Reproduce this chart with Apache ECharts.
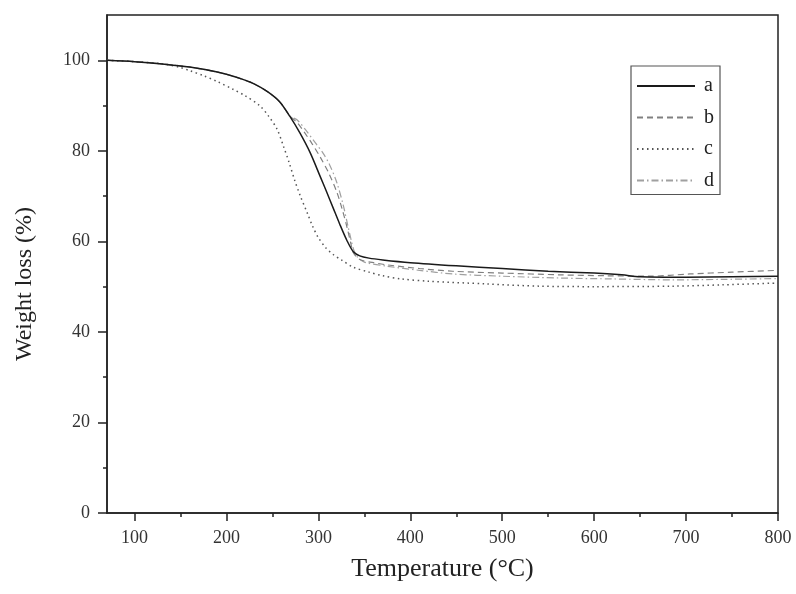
<!DOCTYPE html>
<html>
<head>
<meta charset="utf-8">
<script src="https://cdn.jsdelivr.net/npm/echarts@6/dist/echarts.min.js"></script>
<style>html,body{margin:0;padding:0;background:#fff}#c{width:796px;height:594px}</style>
</head>
<body>
<div id="c"></div>
<script>
// ---- data ----
const seriesNames = ['a', 'b', 'c', 'd'];
const xTickLabels = [100, 200, 300, 400, 500, 600, 700, 800];
const xMinorTicks = [150, 250, 350, 450, 550, 650, 750];
const yTickLabels = [0, 20, 40, 60, 80, 100];
const yMinorTicks = [10, 30, 50, 70, 90];

const aT = [70, 100, 130, 160, 190, 210, 230, 245, 258, 269, 280, 291, 302, 309, 316, 323, 331, 338, 345, 355, 370, 400, 450, 500, 550, 600, 630, 650, 700, 750, 800];
const aW = [100, 99.7, 99.2, 98.5, 97.4, 96.3, 94.8, 93.0, 90.8, 87.6, 83.9, 79.6, 74.3, 70.9, 67.4, 63.9, 60.2, 57.7, 56.8, 56.3, 55.9, 55.3, 54.6, 54.0, 53.4, 53.0, 52.6, 52.2, 52.1, 52.2, 52.3];

const bT = [70, 100, 130, 160, 190, 210, 230, 245, 258, 269, 277, 285, 293, 302, 311, 320, 326, 331, 335, 338, 345, 360, 375, 410, 446, 500, 563, 614, 660, 704, 750, 800];
const bW = [100, 99.7, 99.2, 98.5, 97.4, 96.3, 94.8, 93.0, 90.8, 87.7, 86.2, 84.0, 81.6, 78.6, 75.2, 70.9, 67.0, 63.2, 59.8, 57.5, 56.0, 55.3, 54.8, 54.0, 53.4, 53.0, 52.6, 52.4, 52.3, 52.8, 53.2, 53.6];

const cT = [70, 100, 130, 150, 160, 175, 190, 207, 220, 236, 246, 255, 262, 268, 274, 280, 288, 294, 300, 308, 316, 325, 338, 355, 370, 390, 420, 483, 541, 600, 686, 740, 800];
const cW = [100, 99.7, 99.2, 98.4, 97.7, 96.6, 95.3, 93.6, 92.2, 90.0, 87.6, 84.8, 81.0, 77.5, 73.6, 70.2, 66.2, 63.2, 60.8, 58.6, 57.1, 55.9, 54.3, 53.2, 52.4, 51.7, 51.2, 50.6, 50.1, 50.0, 50.1, 50.4, 50.8];

const dT = [70, 100, 130, 160, 190, 210, 230, 245, 258, 269, 277, 287, 298, 305, 312, 320, 327, 332, 336, 339, 343, 350, 375, 410, 446, 500, 563, 620, 686, 740, 800];
const dW = [100, 99.7, 99.2, 98.5, 97.4, 96.3, 94.8, 93.0, 90.8, 87.7, 86.8, 84.4, 81.4, 79.5, 77.0, 73.0, 68.0, 63.5, 60.0, 57.8, 56.4, 55.4, 54.5, 53.6, 52.8, 52.3, 51.9, 51.7, 51.5, 51.6, 51.8];

const zip = (t, w) => t.map((v, i) => [v, w[i]]);

const serif = '"Liberation Serif", "DejaVu Serif", serif';
const styles = [
  { color: '#1a1a1a', width: 1.5, type: 'solid' },
  { color: '#808080', width: 1.2, type: [6, 4] },
  { color: '#555555', width: 1.5, type: [1.5, 3.5] },
  { color: '#a0a0a0', width: 1.2, type: [7, 3, 1.5, 3] }
];
const dataSets = [zip(aT, aW), zip(bT, bW), zip(cT, cW), zip(dT, dW)];

const chart = echarts.init(document.getElementById('c'), null, { renderer: 'canvas' });
chart.setOption({
  backgroundColor: '#fff',
  animation: false,
  grid: { left: 107, right: 18, top: 15, bottom: 81, show: true, borderColor: '#222', borderWidth: 1.5, backgroundColor: 'transparent' },
  legend: {
    orient: 'vertical',
    left: 631, top: 66,
    padding: [10, 6, 4, 5],
    itemWidth: 58, itemHeight: 20, itemGap: 11.5,
    borderColor: '#555', borderWidth: 1.2,
    itemStyle: { opacity: 0 },
    textStyle: { fontFamily: serif, fontSize: 20, color: '#222', padding: [0, 0, 0, 4] },
    data: seriesNames
  },
  xAxis: [{
    type: 'value', min: 70, max: 800, position: 'bottom',
    name: 'Temperature (\u00B0C)', nameLocation: 'middle', nameGap: 43,
    nameTextStyle: { fontFamily: serif, fontSize: 26, color: '#222' },
    axisLine: { lineStyle: { color: '#222', width: 1.5 } },
    axisTick: { show: true, customValues: xTickLabels, length: 8, inside: false, lineStyle: { color: '#222', width: 1.5 } },
    axisLabel: { customValues: xTickLabels, fontFamily: serif, fontSize: 18, color: '#333', margin: 16 },
    splitLine: { show: false }
  }, {
    type: 'value', min: 70, max: 800, position: 'bottom',
    axisLine: { show: false },
    axisTick: { show: true, customValues: xMinorTicks, length: 4, lineStyle: { color: '#222', width: 1.5 } },
    axisLabel: { show: false },
    splitLine: { show: false }
  }],
  yAxis: [{
    type: 'value', min: 0, max: 110, position: 'left',
    axisLine: { show: true, lineStyle: { color: '#222', width: 1.5 } },
    axisTick: { show: true, customValues: yTickLabels, length: 9, lineStyle: { color: '#222', width: 1.5 } },
    axisLabel: { customValues: yTickLabels, fontFamily: serif, fontSize: 18, color: '#333', margin: 17 },
    splitLine: { show: false }
  }, {
    type: 'value', min: 0, max: 110, position: 'left',
    axisLine: { show: false },
    axisTick: { show: true, customValues: yMinorTicks, length: 4, lineStyle: { color: '#222', width: 1.5 } },
    axisLabel: { show: false },
    splitLine: { show: false }
  }],
  graphic: [{
    type: 'text', x: 25, y: 284, rotation: Math.PI / 2,
    style: { text: 'Weight loss (%)', fontFamily: serif, fontSize: 24, fill: '#222', align: 'center', verticalAlign: 'middle' }
  }],
  series: seriesNames.map((n, i) => ({
    name: n, type: 'line', xAxisIndex: 0, yAxisIndex: 0,
    data: dataSets[i], showSymbol: false, symbol: 'none',
    smooth: 0.3,
    lineStyle: styles[i], itemStyle: { color: styles[i].color },
    z: 4 - i
  }))
});
</script>
</body>
</html>
